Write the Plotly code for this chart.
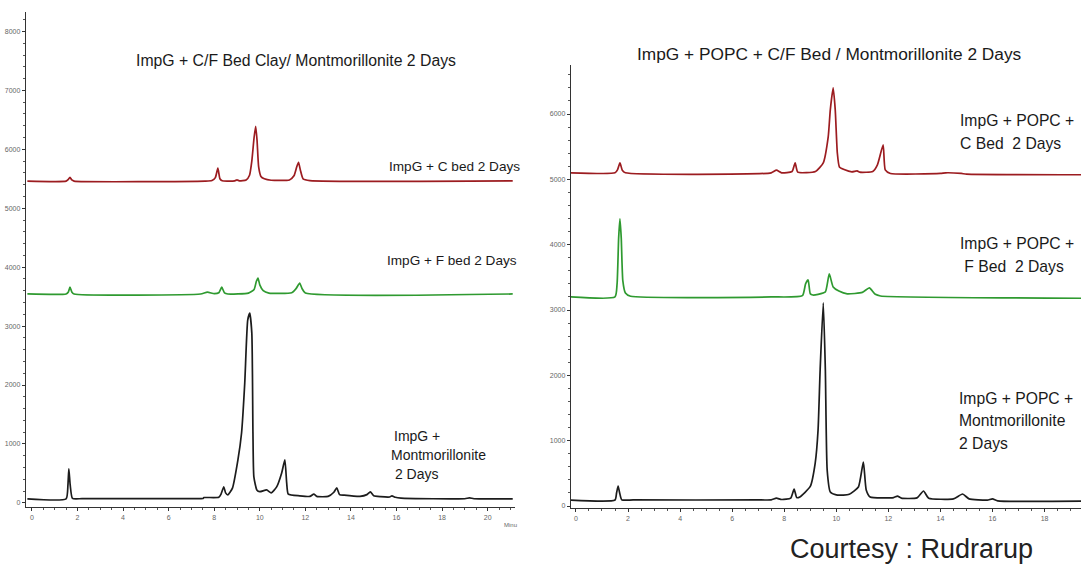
import plotly.graph_objects as go

W, H = 1081, 567

# ---------------- Left panel: ImpG + C/F bed clay / Montmorillonite ----------------
left_c_bed_t = [-0.2, 1.5, 1.6, 1.67, 1.75, 1.85, 7.6, 7.9, 8.05, 8.16, 8.25, 8.35, 8.9, 9.0, 9.1,
                9.4, 9.55, 9.65, 9.75, 9.82, 9.88, 9.95, 10.05, 10.2, 10.5, 11.3, 11.5, 11.62,
                11.7, 11.78, 11.9, 12.2, 21.1]
left_c_bed_y = [5460, 5460, 5490, 5525, 5480, 5460, 5460, 5470, 5520, 5680, 5500, 5465, 5465, 5480, 5465,
                5480, 5560, 5800, 6200, 6390, 6150, 5700, 5540, 5500, 5475, 5480, 5550, 5700,
                5780, 5650, 5500, 5470, 5465]

left_f_bed_t = [-0.2, 1.5, 1.6, 1.67, 1.75, 1.85, 7.4, 7.7, 8.0, 8.2, 8.33, 8.45, 8.6, 9.5, 9.75,
                9.85, 9.92, 10.0, 10.15, 10.4, 11.4, 11.6, 11.75, 11.85, 12.0, 21.1]
left_f_bed_y = [3545, 3545, 3580, 3660, 3580, 3545, 3545, 3575, 3550, 3565, 3660, 3565, 3545, 3560, 3620,
                3760, 3815, 3700, 3600, 3560, 3565, 3640, 3730, 3640, 3560, 3545]

left_mont_t = [-0.2, 1.5, 1.58, 1.62, 1.68, 1.78, 2.2, 7.0, 7.5, 7.55, 8.2, 8.3, 8.42, 8.5, 8.6, 8.8, 9.04,
               9.2, 9.34, 9.47, 9.56, 9.65, 9.7, 9.74, 9.87, 10.0, 10.3, 10.5, 10.74, 10.96, 11.1,
               11.18, 11.25, 11.75, 12.2, 12.37, 12.5, 13.0, 13.25, 13.38, 13.5, 13.7, 14.4, 14.7,
               14.85, 15.0, 15.3, 15.7, 15.8, 15.95, 16.2, 19.0, 19.2, 19.4, 21.1]
left_mont_y = [68, 68, 300, 576, 300, 75, 72, 72, 75, 90, 95, 150, 271, 170, 136, 250, 729,
               1186, 2034, 3100, 3220, 2880, 1186, 441, 220, 190, 220, 170, 271, 508, 729,
               339, 150, 120, 110, 150, 110, 110, 180, 254, 140, 130, 110, 140,
               186, 120, 105, 100, 120, 95, 80, 70, 85, 70, 68]

# ---------------- Right panel: ImpG + POPC + C/F bed / Montmorillonite ----------------
right_c_bed_t = [-0.2, 1.5, 1.6, 1.69, 1.78, 1.9, 7.5, 7.7, 7.9, 8.3, 8.42, 8.52, 9.2, 9.5, 9.69,
                 9.77, 9.88, 9.96, 10.04, 10.12, 10.3, 10.6, 10.8, 10.9, 11.4, 11.58, 11.8, 11.88,
                 12.08, 14.0, 14.2, 14.8, 15.0, 19.4]
right_c_bed_y = [5100, 5100, 5150, 5253, 5140, 5100, 5100, 5140, 5100, 5120, 5253, 5110, 5120, 5253, 5650,
                 6064, 6400, 6064, 5405, 5190, 5150, 5115, 5130, 5110, 5120, 5222, 5528, 5145,
                 5090, 5090, 5100, 5090, 5080, 5070]

right_f_bed_t = [-0.2, 1.5, 1.58, 1.64, 1.69, 1.74, 1.8, 1.9, 2.1, 7.5, 8.7, 8.82, 8.92, 9.0, 9.1,
                 9.3, 9.58, 9.73, 9.88, 10.1, 10.42, 11.0, 11.27, 11.5, 11.7, 19.4]
right_f_bed_y = [3200, 3200, 3400, 4100, 4395, 4100, 3450, 3260, 3210, 3200, 3220, 3400, 3460, 3250, 3230,
                 3240, 3277, 3553, 3353, 3290, 3247, 3270, 3338, 3240, 3215, 3180]

right_mont_t = [-0.2, 1.5, 1.56, 1.62, 1.68, 1.76, 2.2, 7.0, 7.5, 7.7, 7.9, 8.25, 8.38, 8.48, 8.6, 9.0, 9.19,
                9.3, 9.38, 9.5, 9.58, 9.65, 9.77, 10.0, 10.27, 10.5, 10.85, 11.04, 11.15, 11.3,
                12.2, 12.35, 12.5, 13.1, 13.35, 13.55, 14.5, 14.85, 15.1, 15.8, 16.0, 16.2, 19.4]
right_mont_y = [92, 92, 200, 306, 200, 95, 93, 93, 95, 120, 100, 120, 260, 130, 140, 300, 658,
                1164, 2083, 3109, 2083, 551, 214, 170, 168, 180, 291, 674, 245, 138,
                130, 153, 120, 125, 230, 120, 110, 184, 110, 90, 110, 80, 75]

RED = "#9c1c20"
GREEN = "#2f9a30"
BLACK = "#1c1c1c"

fig = go.Figure()

def trace(t, y, color, xa, ya):
    fig.add_trace(go.Scatter(x=t, y=y, mode="lines", xaxis=xa, yaxis=ya,
                             line=dict(color=color, width=1.7, shape="spline", smoothing=0.5),
                             showlegend=False, hoverinfo="skip"))

trace(left_c_bed_t, left_c_bed_y, RED, "x", "y")
trace(left_f_bed_t, left_f_bed_y, GREEN, "x", "y")
trace(left_mont_t, left_mont_y, BLACK, "x", "y")
trace(right_c_bed_t, right_c_bed_y, RED, "x2", "y2")
trace(right_f_bed_t, right_f_bed_y, GREEN, "x2", "y2")
trace(right_mont_t, right_mont_y, BLACK, "x2", "y2")

tickfont = dict(family="Liberation Sans, Arial, sans-serif", size=7, color="#666666")
axis_common = dict(showline=True, linecolor="#333333", linewidth=1.4, ticks="outside",
                   ticklen=3, tickcolor="#333333", showgrid=False, zeroline=False,
                   tickfont=tickfont, fixedrange=True)

def dom_x(a, b):
    return [a / W, b / W]

def dom_y(top, bottom):
    return [1 - bottom / H, 1 - top / H]

fig.update_layout(
    width=W, height=H, margin=dict(l=0, r=0, t=0, b=0),
    paper_bgcolor="white", plot_bgcolor="white",
    xaxis=dict(domain=dom_x(26, 515), range=[-0.26, 21.2], tick0=0, dtick=2,
               minor=dict(dtick=0.5, ticks="outside", ticklen=2, tickcolor="#555555"),
               anchor="y", **axis_common),
    yaxis=dict(domain=dom_y(12, 507), range=[-70, 8330], tick0=0, dtick=1000,
               minor=dict(dtick=200, ticks="outside", ticklen=2, tickcolor="#555555"),
               anchor="x", **axis_common),
    xaxis2=dict(domain=dom_x(571, 1081), range=[-0.19, 19.4], tick0=0, dtick=2,
                minor=dict(dtick=0.5, ticks="outside", ticklen=2, tickcolor="#555555"),
                anchor="y2", **axis_common),
    yaxis2=dict(domain=dom_y(65, 508), range=[-30, 6750], tick0=0, dtick=1000,
                minor=dict(dtick=200, ticks="outside", ticklen=2, tickcolor="#555555"),
                anchor="x2", **axis_common),
)

FONT = "Liberation Sans, Arial, sans-serif"

def label(text, x, y, size, xanchor="left", color="#1a1a1a"):
    fig.add_annotation(text=text, x=x / W, y=1 - y / H, xref="paper", yref="paper",
                       xanchor=xanchor, yanchor="middle", showarrow=False,
                       font=dict(family=FONT, size=size, color=color))

# Panel titles
label("ImpG + C/F Bed Clay/ Montmorillonite 2 Days", 296, 60, 15.8, "center")
label("ImpG + POPC + C/F Bed / Montmorillonite 2 Days", 829, 54, 17.3, "center")

# Left panel trace labels
label("ImpG + C bed 2 Days", 387, 166, 13.6)
label("ImpG + F bed 2 Days", 385, 260, 13.6)
label("ImpG +", 392, 436, 14)
label("Montmorillonite", 389, 455, 14)
label(" 2 Days", 389, 474, 14)

# Right panel trace labels
label("ImpG + POPC +", 958, 120, 15.7)
label("C Bed  2 Days", 958, 143, 15.7)
label("ImpG + POPC +", 958, 243, 15.7)
label(" F Bed  2 Days", 958, 266, 15.7)
label("ImpG + POPC +", 957, 398, 15.7)
label("Montmorillonite", 957, 420, 15.7)
label("2 Days", 957, 443, 15.7)

# Axis unit and credit
label("Minu", 510, 525, 6, "center", "#666666")
label("Courtesy : Rudrarup", 788, 549, 27, "left", "#222222")

fig.write_html("out.html")
